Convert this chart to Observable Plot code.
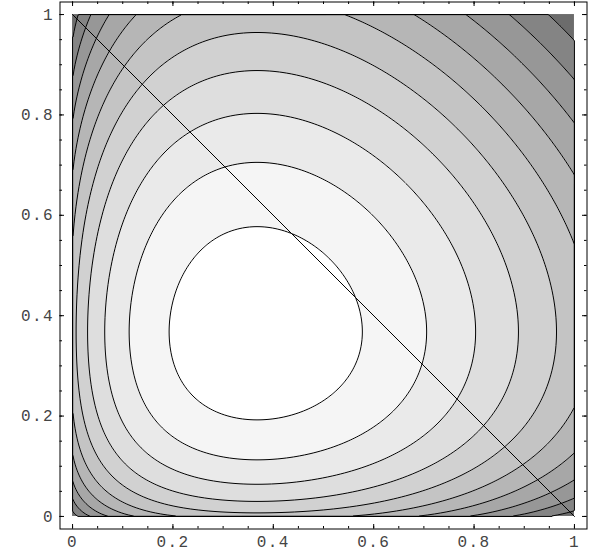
<!DOCTYPE html>
<html><head><meta charset="utf-8">
<script src="https://cdn.jsdelivr.net/npm/d3@7"></script>
<script src="https://cdn.jsdelivr.net/npm/@observablehq/plot@0.6"></script>
<style>
body{margin:0;background:#fff}
#chart text{letter-spacing:1.4px}
</style>
</head><body><div id="chart"></div>
<script>
// contour levels (10 contours), band grays (11 bands, low -> high)
const levels = [0.0506, 0.121, 0.191, 0.262, 0.332, 0.403, 0.473, 0.544, 0.614, 0.685];
const grays = ["#6c6c6c","#848484","#979797","#a7a7a7","#b6b6b6","#c4c4c4","#d1d1d1","#dedede","#eaeaea","#f5f5f5","#ffffff"];
const xTicks = [0, 0.2, 0.4, 0.6, 0.8, 1];
const xTickLabels = ["0", "0.2", "0.4", "0.6", "0.8", "1"];
const yTicks = [0, 0.2, 0.4, 0.6, 0.8, 1];
const yTickLabels = ["0", "0.2", "0.4", "0.6", "0.8", "1"];
const minorTicks = [0,0.05,0.1,0.15,0.2,0.25,0.3,0.35,0.4,0.45,0.5,0.55,0.6,0.65,0.7,0.75,0.8,0.85,0.9,0.95,1];
const diagonal = [{x: 0, y: 1}, {x: 1, y: 0}];
// plotted surface: H(x,y) = -x ln x - y ln y
const surface = (x, y) => -(x > 0 ? x * Math.log(x) : 0) - (y > 0 ? y * Math.log(y) : 0);

const W = 589, H = 557;
const mL = 59.5, mR = 2.5, mT = 1.5, mB = 28.5;
const fw = W - mL - mR, fh = H - mT - mB;

const chart = Plot.plot({
  width: W, height: H,
  marginLeft: mL, marginRight: mR, marginTop: mT, marginBottom: mB,
  x: {domain: [-0.025, 1.025], axis: null},
  y: {domain: [-0.025, 1.025], axis: null},
  color: {type: "threshold", domain: levels, range: grays},
  style: {fontFamily: "'Liberation Mono', monospace", fontSize: "16px", background: "#fff", overflow: "visible"},
  marks: [
    Plot.rect([0], {x1: 0, x2: 1, y1: 0, y2: 1, fill: grays[0]}),
    Plot.contour({value: surface, x1: 0, x2: 1, y1: 0, y2: 1, thresholds: levels, fill: "value", stroke: "none", pixelSize: 1}),
    Plot.contour({value: surface, x1: 0, x2: 1, y1: 0, y2: 1, thresholds: levels, fill: "none", stroke: "#000", strokeWidth: 1, pixelSize: 1}),
    Plot.line(diagonal, {x: "x", y: "y", stroke: "#000", strokeWidth: 1}),
    Plot.frame({stroke: "#000", strokeWidth: 1}),
    // minor ticks on all sides (inward)
    Plot.tickX(minorTicks, {x: d => d, insetTop: fh - 2.5, stroke: "#000"}),
    Plot.tickX(minorTicks, {x: d => d, insetBottom: fh - 2.5, stroke: "#000"}),
    Plot.tickY(minorTicks, {y: d => d, insetRight: fw - 2.5, stroke: "#000"}),
    Plot.tickY(minorTicks, {y: d => d, insetLeft: fw - 2.5, stroke: "#000"}),
    // major ticks
    Plot.tickX(xTicks, {x: d => d, insetTop: fh - 4.5, stroke: "#000"}),
    Plot.tickX(xTicks, {x: d => d, insetBottom: fh - 4.5, stroke: "#000"}),
    Plot.tickY(yTicks, {y: d => d, insetRight: fw - 4.5, stroke: "#000"}),
    Plot.tickY(yTicks, {y: d => d, insetLeft: fw - 4.5, stroke: "#000"}),
    // labels
    Plot.text(xTicks, {x: d => d, text: (d, i) => xTickLabels[i], frameAnchor: "bottom", dy: 18, fill: "#444"}),
    Plot.text(yTicks, {y: d => d, text: (d, i) => yTickLabels[i], frameAnchor: "left", textAnchor: "end", dx: -6, fill: "#444"})
  ]
});
document.getElementById("chart").append(chart);
</script>
</body></html>
